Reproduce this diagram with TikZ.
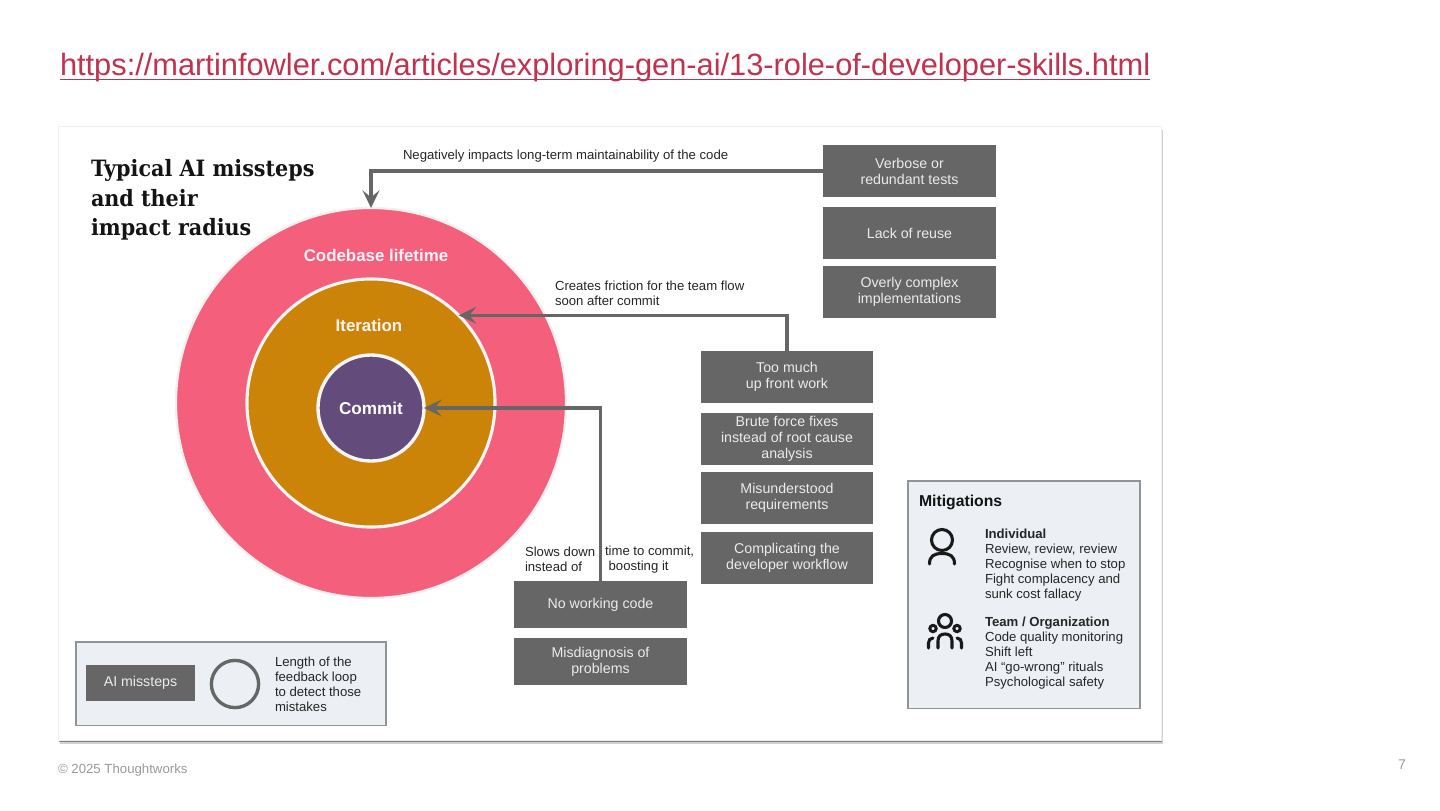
\documentclass[tikz,border=0pt]{standalone}
\usepackage{fontspec}
\usepackage{xcolor}
\setmainfont{Liberation Sans}
\newfontfamily\titlefont[FakeStretch=0.92]{DejaVu Serif}
\usetikzlibrary{arrows.meta,shadows}
\definecolor{stepgray}{HTML}{666666}
\definecolor{panelbg}{HTML}{ECF0F4}
\definecolor{panelline}{HTML}{8F9498}
\definecolor{ringpink}{HTML}{F4607C}
\definecolor{ringgold}{HTML}{CC8408}
\definecolor{ringplum}{HTML}{634C7C}
\definecolor{linkred}{HTML}{C2324F}
\begin{document}
\begin{tikzpicture}[
    x=0.025cm, y=-0.025cm,
    >={Stealth[length=12.5pt,width=12pt,inset=5pt]},
    every node/.style={font=\fontsize{9.35}{10.6}\selectfont, outer sep=0pt, text=black!85},
    misstep/.style={fill=stepgray, align=center, inner sep=0pt, text=white!92!black,
                    font=\fontsize{10.1}{11.4}\selectfont,
                    minimum width=4.32cm, minimum height=1.3cm},
    tall/.style={misstep, minimum height=1.18cm},
    note/.style={anchor=west, align=left, inner sep=0pt},
    flow/.style={->, draw=stepgray, line width=2.4pt},
    panel/.style={draw=panelline, fill=panelbg, line width=0.9pt, inner sep=0pt},
    ring/.style={circle, draw=black!6, inner sep=0pt, text=white},
    ringlabel/.style={font=\fontsize{12}{13}\selectfont\bfseries, text=white!92!ringpink, inner sep=0pt},
    icon/.style={draw=black!90, line width=2.2pt, line cap=round},
  ]
  \useasboundingbox (0,0) rectangle (1440,810);
  %% ---- Slide furniture ----
  \node[anchor=west, inner sep=0pt, font=\fontsize{21.9}{24}\selectfont, text=linkred] (link) at (60,68)
    {https://martinfowler.com/articles/exploring-gen-ai/13-role-of-developer-skills.html};
  \draw[linkred, line width=1.3pt] (60,79.5) -- (1150,79.5);
  \node[anchor=west, inner sep=0pt, font=\fontsize{9.4}{10}\selectfont, text=black!40] (copyright) at (58,770)
    {© 2025 Thoughtworks};
  \node[inner sep=0pt, font=\fontsize{10}{12}\selectfont, text=black!40] (pageno) at (1402,765) {7};
  %% ---- Card ----
  \node[fill=white, draw=black!6, line width=0.5pt, minimum width=27.58cm, minimum height=15.35cm,
        anchor=north west, inner sep=0pt,
        drop shadow={shadow xshift=1.3pt, shadow yshift=-2.6pt, opacity=0.18, fill=black},
        drop shadow={shadow xshift=0.6pt, shadow yshift=-1.3pt, opacity=0.4, fill=black}] (card) at (58,126) {};
  \node[note, font=\titlefont\fontsize{16}{21}\selectfont\bfseries, text=black!92] (title) at (91,200)
    {Typical AI missteps\\and their\\impact radius};
  %% ---- Rings ----
  \node[ring, fill=ringpink, line width=1.6pt, minimum size=9.75cm] (lifetime) at (371,403) {};
  \node[ring, fill=ringgold, draw=white!96!black, line width=2.2pt, minimum size=6.2cm] (iteration) at (371,403) {};
  \node[ring, fill=ringplum, draw=white!96!black, line width=2.4pt, minimum size=2.65cm,
        font=\fontsize{12.2}{13}\selectfont\bfseries] (commit) at (371,408) {Commit};
  \node[ringlabel] (lifetimelabel) at (376,255) {Codebase lifetime};
  \node[ringlabel] (iterationlabel) at (369,325) {Iteration};
  %% ---- Missteps ----
  % Codebase lifetime column
  \node[misstep] (verbose) at (909.5,171) {Verbose or\\redundant tests};
  \node[misstep] (reuse)   at (909.5,233) {Lack of reuse};
  \node[misstep] (complex) at (909.5,292) {Overly complex\\implementations};
  % Iteration column
  \node[misstep] (upfront) at (787,377) {Too much\\up front work};
  \node[misstep] (brute)   at (787,439) {Brute force fixes\\instead of root cause\\analysis};
  \node[misstep] (misreq)  at (787,498) {Misunderstood\\requirements};
  \node[misstep] (workflow) at (787,557.5) {Complicating the\\developer workflow};
  % Commit column
  \node[tall] (noworking) at (600.5,604.5) {No working code};
  \node[tall] (misdiag)   at (600.5,661.5) {Misdiagnosis of\\problems};
  %% ---- Arrow labels ----
  \node[note] (longterm) at (403,156) {Negatively impacts long-term maintainability of the code};
  \node[note] (friction) at (555,293.5) {Creates friction for the team flow\\soon after commit};
  \node[note] (slowsl) at (525,559.5) {Slows down\\instead of};
  \node[note] (slowsr) at (605,559.5) {time to commit,\\\ boosting it};
  %% ---- Arrows ----
  \draw[flow] (verbose.west) -| (lifetime.north);
  \draw[flow] (upfront.north) |- (iteration.45);
  \draw[flow] (noworking.north) |- (commit.east);
  %% ---- Legend ----
  \node[panel, minimum width=7.75cm, minimum height=2.08cm, anchor=north west] (legend) at (76,642) {};
  \node[misstep, minimum width=2.72cm, minimum height=0.9cm] (legendstep) at (140.5,683) {AI missteps};
  \node[circle, draw=stepgray, line width=2.4pt, minimum size=1.18cm, inner sep=0pt] (legendloop) at (235,684) {};
  \node[note] (legendtext) at (275,684) {Length of the\\feedback loop\\to detect those\\mistakes};
  %% ---- Mitigations ----
  \node[panel, minimum width=5.8cm, minimum height=5.68cm, anchor=north west] (mitigations) at (908,481) {};
  \node[note, font=\fontsize{11.2}{12}\selectfont\bfseries, text=black!92] (mithead) at (919,502) {Mitigations};
  \node[note] (individual) at (985,565)
    {\textbf{Individual}\\Review, review, review\\Recognise when to stop\\Fight complacency and\\sunk cost fallacy};
  \node[note] (team) at (985,653)
    {\textbf{Team / Organization}\\Code quality monitoring\\Shift left\\AI “go-wrong” rituals\\Psychological safety};
  % Person icon
  \draw[icon] (942,540) circle (10.5);
  \draw[icon] (929.5,564) .. controls (929.5,556) and (934,553.5) .. (942,553.5)
    .. controls (950,553.5) and (954.5,556) .. (954.5,564);
  % Team icon
  \draw[icon] (945,621) circle (6.5);
  \draw[icon, line width=2.1pt] (933,628.5) circle (3.2);
  \draw[icon, line width=2.1pt] (957,628.5) circle (3.2);
  \draw[icon] (938,648) -- (938,641) .. controls (938,636) and (941,634) .. (945,634)
    .. controls (949,634) and (952,636) .. (952,641) -- (952,648);
  \draw[icon] (928.5,648) -- (928.5,643) .. controls (928.5,640) and (930,638.5) .. (933,638);
  \draw[icon] (961.5,648) -- (961.5,643) .. controls (961.5,640) and (960,638.5) .. (957,638);
\end{tikzpicture}
\end{document}
